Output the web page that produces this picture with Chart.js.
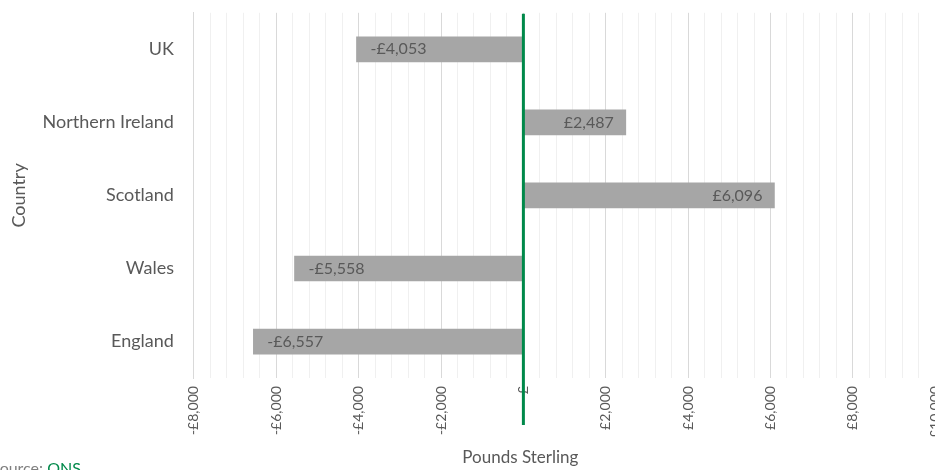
<!doctype html>
<html>

<head>
  <title>Net fiscal balance by country</title>
  <script src="https://cdn.jsdelivr.net/npm/chart.js@4/dist/chart.umd.min.js"></script>
  <style>
  html, body {
    margin: 0;
    padding: 0;
    overflow: hidden;
    background: #fff;
  }
  /* canvas is a little larger than the window so the plot can run to the edges */
  #container {
    width: 960px;
    height: 480px;
    margin-top: -10px;
  }
  </style>
</head>

<body>
  <div id="container">
    <canvas id="canvas"></canvas>
  </div>
  <script>
    var countries = ['UK', 'Northern Ireland', 'Scotland', 'Wales', 'England'];
    var balance = [-4053, 2487, 6096, -5558, -6557];
    var axisMin = -8000;
    var axisMax = 10000;

    var textGrey = '#595959';
    var green = '#00894a';
    var fontFamily = 'Lato, "Open Sans", sans-serif';

    function pounds(v) {
      if (v === 0) return '£';
      var s = '£' + Math.abs(v).toLocaleString('en-GB');
      return v < 0 ? '-' + s : s;
    }

    // labels sit just inside the outer end of each bar
    var barLabels = {
      id: 'barLabels',
      afterDatasetsDraw: function(chart) {
        var ctx = chart.ctx;
        var meta = chart.getDatasetMeta(0);
        ctx.save();
        ctx.font = '16px ' + fontFamily;
        ctx.fillStyle = textGrey;
        ctx.textBaseline = 'middle';
        meta.data.forEach(function(bar, i) {
          var v = balance[i];
          if (v < 0) {
            ctx.textAlign = 'left';
            ctx.fillText(pounds(v), bar.x + 14, bar.y);
          } else {
            ctx.textAlign = 'right';
            ctx.fillText(pounds(v), bar.x - 12, bar.y);
          }
        });
        ctx.restore();
      }
    };

    // green zero line running down through the tick labels, axis title, source note
    var extras = {
      id: 'extras',
      afterDraw: function(chart) {
        var ctx = chart.ctx;
        var x = chart.scales.x.getPixelForValue(0);
        ctx.save();
        ctx.strokeStyle = green;
        ctx.lineWidth = 3;
        ctx.beginPath();
        ctx.moveTo(x, chart.chartArea.top + 1);
        ctx.lineTo(x, 435);
        ctx.stroke();

        ctx.fillStyle = textGrey;
        ctx.font = '17px ' + fontFamily;
        ctx.textAlign = 'center';
        ctx.textBaseline = 'middle';
        ctx.fillText('Pounds Sterling', x - 3, 468);

        ctx.font = '16px ' + fontFamily;
        ctx.textBaseline = 'top';
        ctx.textAlign = 'left';
        ctx.fillStyle = '#7f7f7f';
        var pre = 'Source: ';
        var px = -9;
        ctx.fillText(pre, px, 471);
        ctx.fillStyle = green;
        ctx.fillText('ONS', px + ctx.measureText(pre).width, 471);
        ctx.restore();
      }
    };

    window.onload = function() {
      var ctx = document.getElementById('canvas').getContext('2d');
      window.myBar = new Chart(ctx, {
        type: 'bar',
        data: {
          labels: countries,
          datasets: [{
            data: balance,
            backgroundColor: '#a6a6a6',
            barThickness: 25
          }]
        },
        plugins: [barLabels, extras],
        options: {
          indexAxis: 'y',
          responsive: true,
          maintainAspectRatio: false,
          animation: false,
          layout: {
            padding: {top: 0, right: 18, left: 2, bottom: 24}
          },
          plugins: {
            legend: {display: false},
            tooltip: {enabled: false}
          },
          scales: {
            x: {
              min: axisMin,
              max: axisMax,
              border: {display: false},
              grid: {
                drawTicks: false,
                lineWidth: 1,
                color: function(c) {
                  return c.tick && c.tick.value % 2000 === 0 ? '#d9d9d9' : '#f0f0f0';
                }
              },
              ticks: {
                stepSize: 400,
                autoSkip: false,
                minRotation: 90,
                maxRotation: 90,
                padding: 8,
                color: textGrey,
                font: {family: fontFamily, size: 14},
                callback: function(v) {
                  return v % 2000 === 0 ? pounds(v) : '';
                }
              }
            },
            y: {
              grid: {display: false},
              border: {display: true, color: '#d9d9d9'},
              ticks: {
                color: textGrey,
                padding: 12,
                font: {family: fontFamily, size: 18}
              },
              title: {
                display: true,
                text: 'Country',
                color: textGrey,
                font: {family: fontFamily, size: 18},
                padding: {top: 6, bottom: 1}
              }
            }
          }
        }
      });
    };
  </script>
</body>

</html>
